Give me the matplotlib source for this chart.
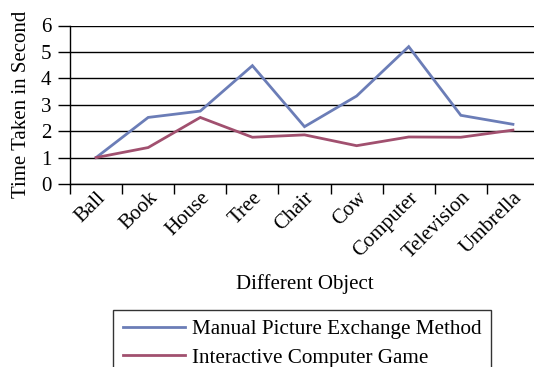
import matplotlib
matplotlib.use("Agg")
import matplotlib.pyplot as plt
import numpy as np

categories = ["Ball", "Book", "House", "Tree", "Chair", "Cow",
              "Computer", "Television", "Umbrella"]
manual_times = [1.0, 2.52, 2.76, 4.48, 2.17, 3.33, 5.20, 2.60, 2.26]
game_times = [1.0, 1.38, 2.52, 1.77, 1.86, 1.45, 1.78, 1.77, 2.04]
series_names = ["Manual Picture Exchange Method", "Interactive Computer Game"]
y_ticks = [0, 1, 2, 3, 4, 5, 6]

plt.rcParams["font.family"] = ["Liberation Serif", "DejaVu Serif"]

W, H = 534, 367
fig = plt.figure(figsize=(W / 100, H / 100), dpi=100)
ax_left, ax_right, ax_top, ax_bottom = 70, 539, 25.5, 184
ax = fig.add_axes([ax_left / W, 1 - ax_bottom / H,
                   (ax_right - ax_left) / W, (ax_bottom - ax_top) / H])

x = np.arange(len(categories))
ax.plot(x, manual_times, color="#6B7DB7", lw=2.0, label=series_names[0],
        solid_joinstyle="miter")
ax.plot(x, game_times, color="#A1506F", lw=2.0, label=series_names[1],
        solid_joinstyle="miter")

ax.set_xlim(-0.5, len(categories) - 0.5)
ax.set_ylim(0, 6)
ax.set_yticks(y_ticks)
ax.yaxis.grid(True, color="black", lw=1.0)
ax.set_axisbelow(True)

ax.set_xticks(x)
ax.set_xticklabels(categories, rotation=45, ha="right", rotation_mode="anchor",
                   fontsize=15)
ax.set_xticks(np.arange(-0.5, len(categories)), minor=True)
ax.tick_params(axis="x", which="major", length=0, pad=3)
ax.tick_params(axis="x", which="minor", length=7, width=1, color="black")
ax.tick_params(axis="y", length=8.5, width=1, labelsize=15, pad=5)

for side in ("top", "right"):
    ax.spines[side].set_visible(False)
for side in ("left", "bottom"):
    ax.spines[side].set_color("black")
    ax.spines[side].set_linewidth(1.0)

ax_w = ax_right - ax_left
ax_h = ax_bottom - ax_top
ax.set_ylabel("Time Taken in Second", fontsize=15)
ax.yaxis.set_label_coords((31 - ax_left) / ax_w, 0.5)
ax.set_xlabel("Different Object", fontsize=15)
ax.xaxis.set_label_coords((305 - ax_left) / ax_w, (ax_bottom - 274) / ax_h)

leg = fig.legend(loc="upper left", bbox_to_anchor=(113 / W, 1 - 310 / H),
                 fontsize=15.2, frameon=True, fancybox=False,
                 handlelength=2.95, handletextpad=0.35, borderpad=0.45,
                 labelspacing=0.4, borderaxespad=0)
leg.get_frame().set_edgecolor("black")
leg.get_frame().set_linewidth(1.0)

fig.savefig("out.png", dpi=100)
